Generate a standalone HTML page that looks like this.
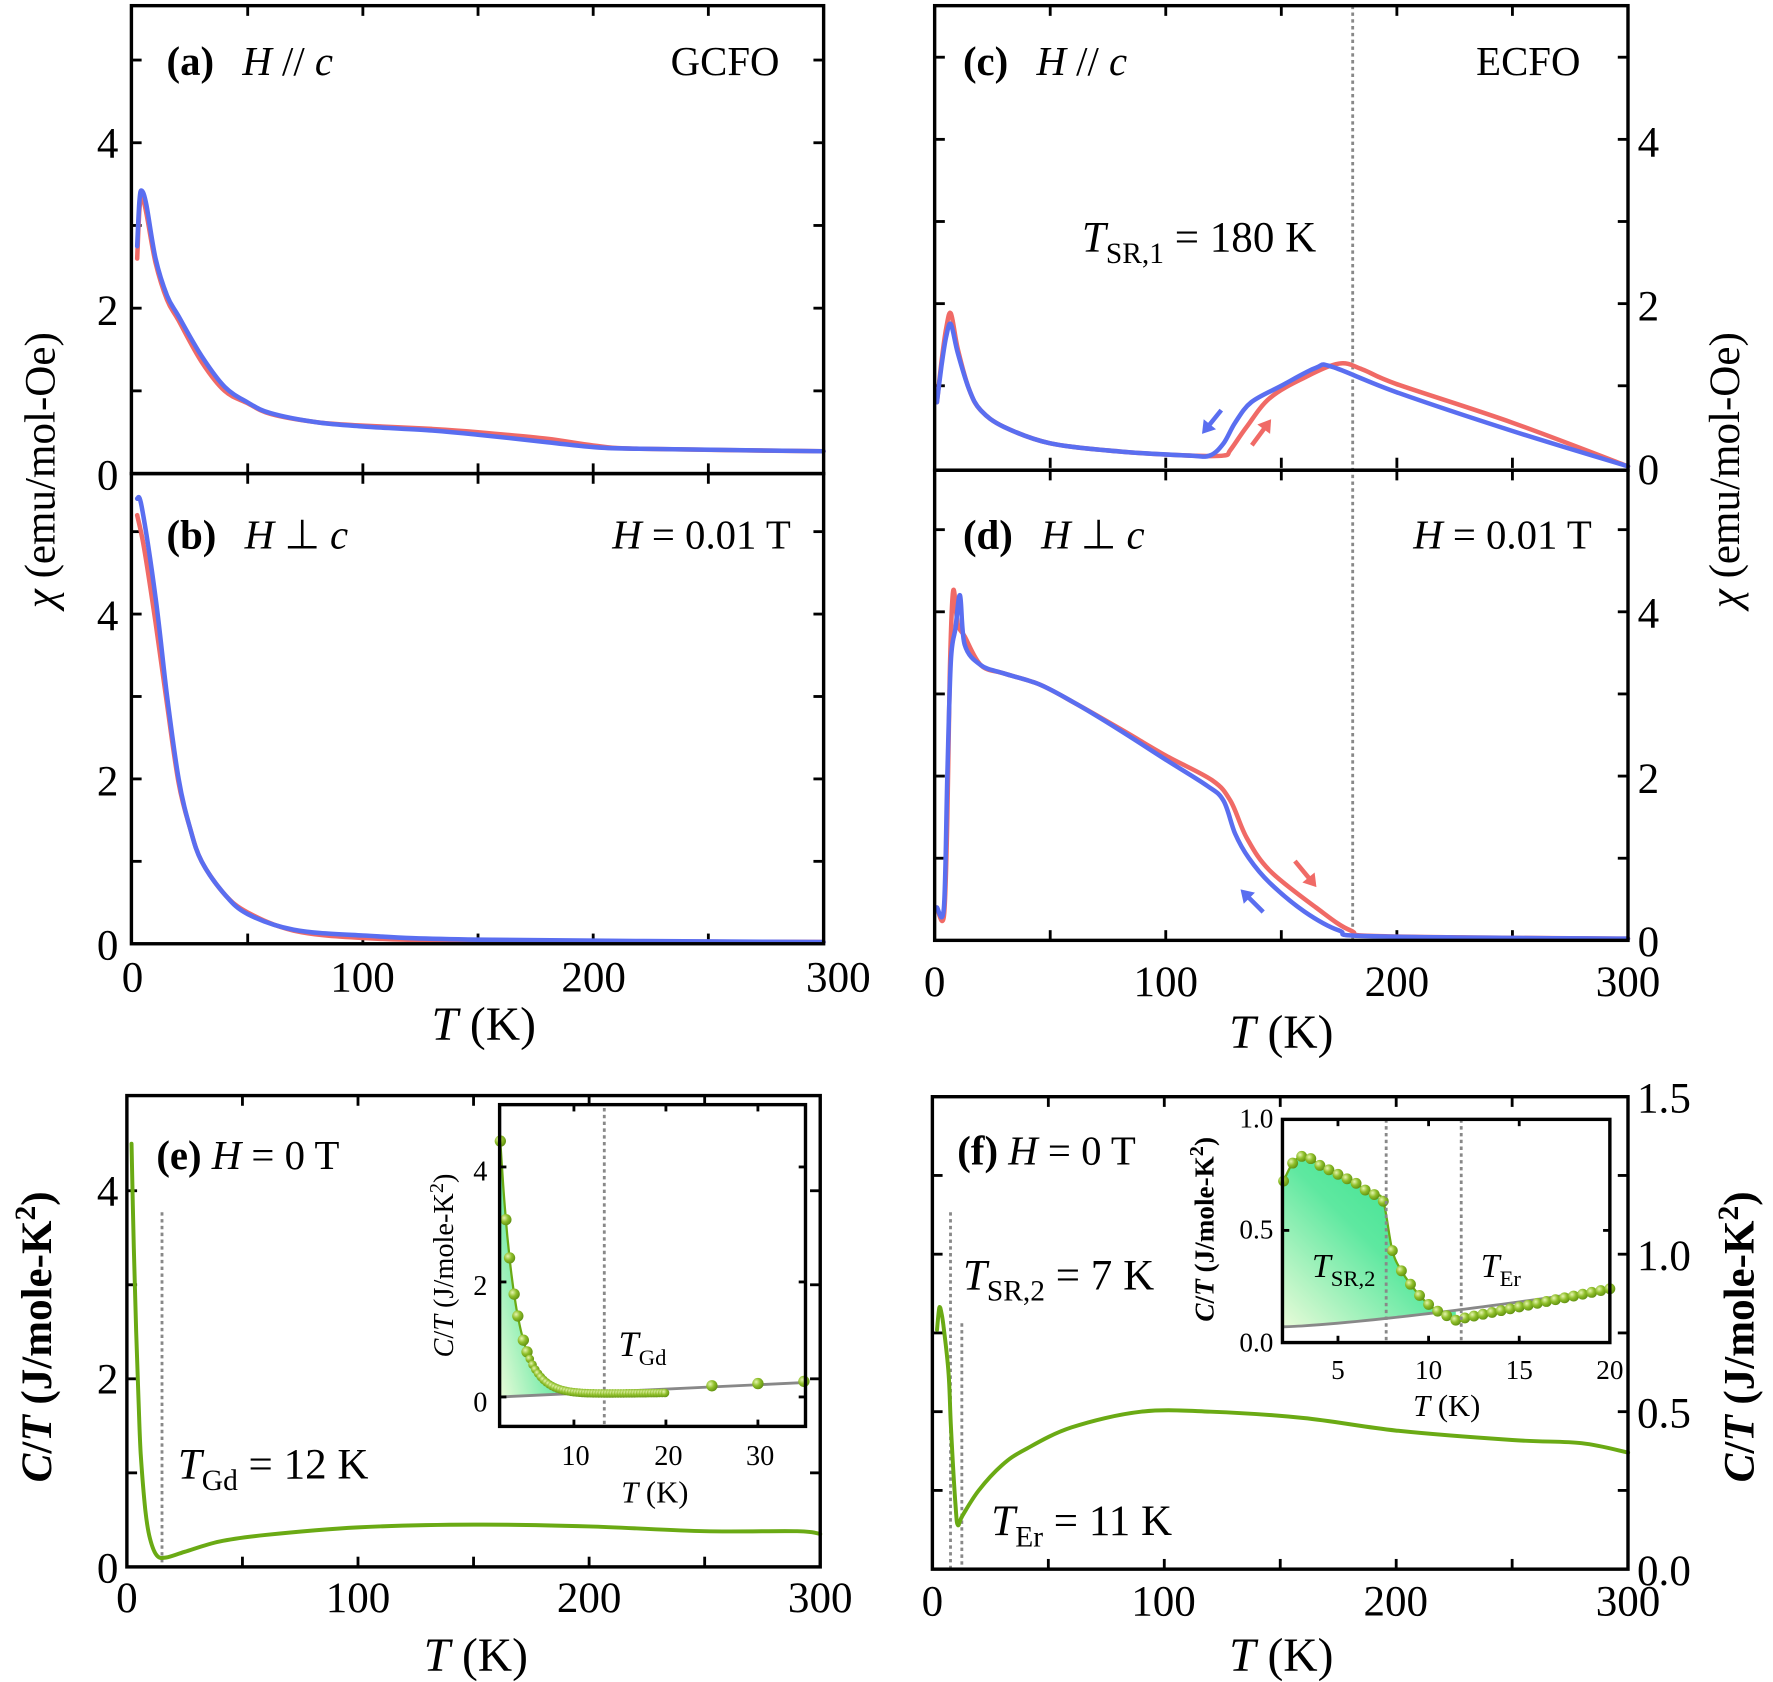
<!DOCTYPE html>
<html><head><meta charset="utf-8"><style>
html,body{margin:0;padding:0;background:#fff;}
svg{display:block}
text{font-family:"Liberation Serif",serif;fill:#000}
</style></head><body>
<svg id="s" width="1773" height="1682" viewBox="0 0 1565 1484.6" preserveAspectRatio="none" xmlns="http://www.w3.org/2000/svg">
<defs>
<linearGradient id="g1" x1="0" y1="1" x2="1" y2="0"><stop offset="0" stop-color="#e8fbd8"/><stop offset="0.5" stop-color="#5ee8a0"/><stop offset="1" stop-color="#2fe08a"/></linearGradient>
<radialGradient id="dot" cx="0.35" cy="0.35" r="0.7"><stop offset="0" stop-color="#e6f5b0"/><stop offset="0.5" stop-color="#8fbf2a"/><stop offset="1" stop-color="#5f8f10"/></radialGradient>
</defs>
<g id="root"></g>
</svg>
<script>
const NS="http://www.w3.org/2000/svg";const root=document.getElementById('root');
function el(t,a,txt){const e=document.createElementNS(NS,t);for(const k in a)e.setAttribute(k,a[k]);if(txt!==undefined)e.innerHTML=txt;root.appendChild(e);return e;}
function cr(pts){let d="M"+pts[0][0].toFixed(1)+","+pts[0][1].toFixed(1);for(let i=0;i<pts.length-1;i++){const p0=pts[Math.max(0,i-1)],p1=pts[i],p2=pts[i+1],p3=pts[Math.min(pts.length-1,i+2)];const c1=[p1[0]+(p2[0]-p0[0])/6,p1[1]+(p2[1]-p0[1])/6],c2=[p2[0]-(p3[0]-p1[0])/6,p2[1]-(p3[1]-p1[1])/6];d+="C"+c1[0].toFixed(1)+","+c1[1].toFixed(1)+" "+c2[0].toFixed(1)+","+c2[1].toFixed(1)+" "+p2[0].toFixed(1)+","+p2[1].toFixed(1);}return d;}
function curve(data,x0,sx,y0,sy,col,w){const pts=data.map(p=>[x0+sx*p[0],y0-sy*p[1]]);el('path',{d:cr(pts),fill:'none',stroke:col,'stroke-width':w,'stroke-linejoin':'round','stroke-linecap':'round'});}
function frame(x1,y1,x2,y2,w){el('rect',{x:x1,y:y1,width:x2-x1,height:y2-y1,fill:'none',stroke:'#000','stroke-width':w});}
function xticks(x0,sx,vals,yb,yt,len){vals.forEach(v=>{const x=x0+sx*v;el('line',{x1:x,x2:x,y1:yb,y2:yb-len,stroke:'#000','stroke-width':2.5});el('line',{x1:x,x2:x,y1:yt,y2:yt+len,stroke:'#000','stroke-width':2.5});});}
function yticks(y0,sy,vals,xl,xr,len){vals.forEach(v=>{const y=y0-sy*v;el('line',{x1:xl,x2:xl+len,y1:y,y2:y,stroke:'#000','stroke-width':2.5});el('line',{x1:xr,x2:xr-len,y1:y,y2:y,stroke:'#000','stroke-width':2.5});});}
function T(x,y,s,sz,anchor,extra){const a={x:x,y:y,'font-size':sz,'text-anchor':anchor||'middle'};if(extra)Object.assign(a,extra);return el('text',a,s);}
const RED='#f06a66',BLUE='#5a6ef0',GRN='#6aaa14';
const TX=[50,100,150,200,250];

// ---- (a) ----
const ax0=117,asx=2.033;
xticks(ax0,asx,TX,418,5,9);yticks(418,73,[1,2,3,4,5],116,727,9);
curve([[2,2.6],[3,3.2],[4,3.35],[6,3.15],[10,2.55],[15,2.1],[20,1.85],[30,1.35],[40,1.0],[50,0.85],[60,0.72],[80,0.62],[100,0.58],[130,0.54],[150,0.5],[180,0.42],[200,0.34],[220,0.3],[300,0.27]],ax0,asx,418,73,RED,4);
curve([[2,2.75],[3,3.3],[4,3.42],[6,3.25],[10,2.6],[15,2.15],[20,1.9],[30,1.42],[40,1.05],[50,0.86],[60,0.73],[80,0.62],[100,0.57],[130,0.52],[150,0.47],[180,0.38],[200,0.32],[220,0.3],[300,0.27]],ax0,asx,418,73,BLUE,4);
// ---- (b) ----
xticks(ax0,asx,TX,833,418,9);yticks(833,72.75,[1,2,3,4,5],116,727,9);
curve([[2,5.2],[5,4.8],[10,3.9],[15,2.9],[20,1.95],[25,1.4],[30,1.0],[40,0.6],[50,0.38],[70,0.16],[100,0.07],[150,0.04],[300,0.02]],ax0,asx,833,72.75,RED,4);
curve([[2,5.4],[4,5.3],[10,4.2],[15,3.0],[20,2.0],[25,1.4],[30,1.0],[40,0.6],[50,0.36],[70,0.17],[100,0.1],[150,0.05],[300,0.02]],ax0,asx,833,72.75,BLUE,4);
frame(116,5,727,418,3);frame(116,418,727,833,3);

// ---- (c) ----
const cx0=825,csx=2.04;
xticks(cx0,csx,TX,413,5,9);yticks(413,72.5,[1,2,3,4,5],825,1437,9);
el('line',{x1:1194,x2:1194,y1:5,y2:830,stroke:'#888','stroke-width':2.5,'stroke-dasharray':'3,3'});
curve([[1,0.8],[3,1.3],[5,1.7],[7,1.88],[10,1.45],[15,0.95],[20,0.7],[30,0.5],[50,0.3],[80,0.2],[110,0.15],[125,0.15],[128,0.22],[135,0.5],[145,0.85],[160,1.1],[175,1.27],[185,1.2],[200,1.02],[250,0.55],[300,0.02]],cx0,csx,413,72.5,RED,4);
curve([[1,0.8],[3,1.25],[5,1.6],[7,1.75],[10,1.4],[15,0.95],[20,0.7],[30,0.5],[50,0.3],[80,0.2],[110,0.15],[119,0.15],[125,0.3],[130,0.55],[137,0.8],[150,1.0],[165,1.22],[172,1.23],[200,0.92],[250,0.45],[300,0.02]],cx0,csx,413,72.5,BLUE,4);
// ---- (d) ----
xticks(cx0,csx,TX,830,415,9);yticks(830,72.5,[1,2,3,4,5],825,1437,9);
curve([[1,0.4],[4,0.3],[5.5,1.5],[6.5,3.2],[8,4.25],[10,3.85],[13,3.7],[20,3.35],[30,3.25],[45,3.12],[60,2.9],[80,2.58],[100,2.25],[120,1.95],[128,1.7],[135,1.25],[145,0.85],[165,0.4],[180,0.12],[195,0.05],[300,0.02]],cx0,csx,830,72.5,RED,4);
curve([[1,0.4],[4,0.4],[5.5,2.0],[7,3.4],[9,3.8],[11,4.2],[13,3.6],[20,3.35],[30,3.25],[45,3.12],[60,2.9],[80,2.56],[100,2.2],[118,1.88],[125,1.7],[130,1.3],[136,1.0],[145,0.7],[160,0.35],[175,0.12],[190,0.05],[300,0.02]],cx0,csx,830,72.5,BLUE,4);
frame(825,5,1437,415,3);frame(825,415,1437,830,3);

// arrows
function arrow(x1,y1,x2,y2,col){const a=Math.atan2(y2-y1,x2-x1),h=11;el('line',{x1:x1,y1:y1,x2:x2-Math.cos(a)*6,y2:y2-Math.sin(a)*6,stroke:col,'stroke-width':4});el('polygon',{points:`${x2},${y2} ${x2-h*Math.cos(a)+7*Math.sin(a)},${y2-h*Math.sin(a)-7*Math.cos(a)} ${x2-h*Math.cos(a)-7*Math.sin(a)},${y2-h*Math.sin(a)+7*Math.cos(a)}`,fill:col});}
arrow(1078,362,1061,383,BLUE);arrow(1105,393,1122,370,RED);
arrow(1143,760,1162,783,RED);arrow(1115,805,1095,785,BLUE);

// ---- (e) ----
const ex0=112,esx=2.04;
xticks(ex0,esx,TX,1383,967,9);yticks(1383,83,[1,2,3,4],112,724,9);
el('line',{x1:143,x2:143,y1:1070,y2:1383,stroke:'#888','stroke-width':2.5,'stroke-dasharray':'3,3'});
curve([[2,4.5],[3,3.4],[4,2.5],[5,1.8],[6,1.2],[8,0.6],[10,0.3],[13,0.12],[17,0.1],[25,0.16],[40,0.27],[60,0.34],[100,0.42],[150,0.45],[200,0.43],[250,0.38],[290,0.38],[300,0.35]],ex0,esx,1383,83,GRN,3.5);
frame(112,967,724,1383,3);
// inset e
const ix0=425.4,isx=8.12,iy0=1233,isy=50.75;
function fe(t){return 4.45*Math.exp(-0.615*(t-2))+0.05*(t>6?1:(t-2)/4)+(t>10?0.002*(t-10):0);}
function be(t){return (t-2)*0.25/33;}
let fp=[];for(let t=2;t<=9;t+=0.25)fp.push([ix0+isx*t,iy0-isy*fe(t)]);for(let t=9;t>=2;t-=0.5)fp.push([ix0+isx*t,iy0-isy*be(t)]);
el('polygon',{points:fp.map(p=>p.join(',')).join(' '),fill:'url(#g1)'});
el('line',{x1:ix0+isx*2,y1:iy0,x2:ix0+isx*35,y2:iy0-isy*0.25,stroke:'#888','stroke-width':2.5});
el('line',{x1:ix0+isx*13.3,x2:ix0+isx*13.3,y1:978,y2:1259,stroke:'#888','stroke-width':2.5,'stroke-dasharray':'3,3'});
let lp=[];for(let t=2;t<=20;t+=0.25)lp.push([t,fe(t)]);
curve(lp,ix0,isx,iy0,isy,GRN,2);
let dp=[2,2.6,3,3.5,3.9,4.5];for(let t=4.9;t<=20.01;t+=0.3)dp.push(t);dp.push(25,30,35);
dp.forEach(t=>{let v=t>20?0.0+(t-2)*0.25/33+0.02:fe(t);el('circle',{cx:ix0+isx*t,cy:iy0-isy*v,r:t<5||t>20?5:3.8,fill:'url(#dot)'});});
frame(441,975,711,1259,3);
xticks(ix0,isx,[10,20,30],1259,975,6);yticks(iy0,isy,[0,2,4],441,711,6);

// ---- (f) ----
const fx0=823,fsx=2.047;
xticks(fx0,fsx,TX,1385,968,9);yticks(1385,278,[0.25,0.5,0.75,1.0,1.25],823,1437,9);
el('line',{x1:839,x2:839,y1:1070,y2:1385,stroke:'#888','stroke-width':2.5,'stroke-dasharray':'3,3'});
el('line',{x1:849,x2:849,y1:1168,y2:1385,stroke:'#888','stroke-width':2.5,'stroke-dasharray':'3,3'});
curve([[2,0.76],[3,0.83],[4,0.81],[5,0.76],[7,0.62],[8,0.45],[10,0.2],[11,0.14],[13,0.17],[20,0.25],[30,0.33],[40,0.38],[60,0.45],[90,0.5],[120,0.5],[160,0.48],[200,0.44],[250,0.41],[280,0.4],[300,0.37]],fx0,fsx,1385,278,GRN,3.5);
frame(823,968,1437,1385,3);
// inset f
const jx0=1101,jsx=16,jy0=1185,jsy=198;
const fd=[[2,0.72],[2.5,0.8],[3,0.83],[3.5,0.82],[4,0.79],[4.5,0.77],[5,0.75],[5.5,0.73],[6,0.71],[6.5,0.68],[7,0.66],[7.5,0.63],[8,0.41],[8.5,0.32],[9,0.26],[9.5,0.21],[10,0.17],[10.5,0.14],[11,0.12],[11.5,0.1],[12,0.11]];
for(let t=12.5;t<=20.01;t+=0.5)fd.push([t,0.11+(t-12)*0.13/8]);
function bf(t){return 0.07+0.17*Math.pow((t-2)/18,1.3);}
let fpp=fd.filter(p=>p[0]<=11.5).map(p=>[jx0+jsx*p[0],jy0-jsy*p[1]]);for(let t=11.5;t>=2;t-=0.5)fpp.push([jx0+jsx*t,jy0-jsy*bf(t)]);
el('polygon',{points:fpp.map(p=>p.join(',')).join(' '),fill:'url(#g1)'});
let bl=[];for(let t=2;t<=20;t+=1)bl.push([t,bf(t)]);curve(bl,jx0,jsx,jy0,jsy,'#888',2.5);
curve(fd,jx0,jsx,jy0,jsy,GRN,2);
fd.forEach(p=>el('circle',{cx:jx0+jsx*p[0],cy:jy0-jsy*p[1],r:4.8,fill:'url(#dot)'}));
el('line',{x1:jx0+jsx*7.66,x2:jx0+jsx*7.66,y1:988,y2:1185,stroke:'#888','stroke-width':2.5,'stroke-dasharray':'3,3'});
el('line',{x1:jx0+jsx*11.8,x2:jx0+jsx*11.8,y1:988,y2:1185,stroke:'#888','stroke-width':2.5,'stroke-dasharray':'3,3'});
frame(1132,988,1421,1185,3);
xticks(jx0,jsx,[5,10,15],1185,988,6);yticks(jy0,jsy,[0.5],1132,1421,6);

// ---- text ----
const S=38;
T(95,139,'4',S,'middle');T(95,287,'2',S,'middle');T(95,432,'0',S,'middle');
T(95,556,'4',S,'middle');T(95,702,'2',S,'middle');T(95,847,'0',S,'middle');
[[0,117],[100,320],[200,524],[300,727]].forEach(a=>T(a[1]+(a[0]==300?13:0),875,a[0],S,'middle'));
T(427,918,'<tspan font-style="italic">T</tspan> (K)',42,'middle');
T(1455,138,'4',S,'middle');T(1455,283,'2',S,'middle');T(1455,427,'0',S,'middle');
T(1455,554,'4',S,'middle');T(1455,700,'2',S,'middle');T(1455,844,'0',S,'middle');
[[0,825],[100,1029],[200,1233],[300,1437]].forEach(a=>T(a[1],879,a[0],S,'middle'));
T(1131,925,'<tspan font-style="italic">T</tspan> (K)',42,'middle');
T(95,1064,'4',S,'middle');T(95,1230,'2',S,'middle');T(95,1397,'0',S,'middle');
[[0,112],[100,316],[200,520],[300,724]].forEach(a=>T(a[1],1423,a[0],S,'middle'));
T(420,1475,'<tspan font-style="italic">T</tspan> (K)',42,'middle');
[[1.5,968],[1.0,1107],[0.5,1246],[0.0,1385]].forEach(a=>T(1445,a[1]+14,a[0].toFixed(1),S,'start'));
[[0,823],[100,1027],[200,1232],[300,1437]].forEach(a=>T(a[1],1426,a[0],S,'middle'));
T(1131,1475,'<tspan font-style="italic">T</tspan> (K)',42,'middle');
// y axis titles
T(0,0,'<tspan font-style="italic">χ</tspan> (emu/mol-Oe)',38,'middle',{transform:'translate(48,415) rotate(-90)'});
T(0,0,'<tspan font-style="italic">χ</tspan> (emu/mol-Oe)',38,'middle',{transform:'translate(1535,415) rotate(-90)'});
T(0,0,'<tspan font-style="italic">C</tspan>/<tspan font-style="italic">T</tspan> (J/mole-K<tspan dy="-14" font-size="26">2</tspan><tspan dy="14">)</tspan>',38,'middle',{transform:'translate(45,1180) rotate(-90)','font-weight':'bold'});
T(0,0,'<tspan font-style="italic">C</tspan>/<tspan font-style="italic">T</tspan> (J/mole-K<tspan dy="-14" font-size="26">2</tspan><tspan dy="14">)</tspan>',38,'middle',{transform:'translate(1548,1180) rotate(-90)','font-weight':'bold'});
// panel labels
T(147,66,'<tspan font-weight="bold">(a)</tspan>  <tspan font-style="italic" dx="16">H</tspan> // <tspan font-style="italic">c</tspan>',36,'start');
T(688,66,'GCFO',36,'end');
T(147,484,'<tspan font-weight="bold">(b)</tspan>  <tspan font-style="italic" dx="16">H</tspan> ⊥ <tspan font-style="italic">c</tspan>',36,'start');
T(698,484,'<tspan font-style="italic">H</tspan> = 0.01 T',36,'end');
T(850,66,'<tspan font-weight="bold">(c)</tspan>  <tspan font-style="italic" dx="16">H</tspan> // <tspan font-style="italic">c</tspan>',36,'start');
T(1395,66,'ECFO',36,'end');
T(955,222,'<tspan font-style="italic">T</tspan><tspan font-size="26" dy="10">SR,1</tspan><tspan dy="-10"> = 180 K</tspan>',38,'start');
T(850,484,'<tspan font-weight="bold">(d)</tspan>  <tspan font-style="italic" dx="16">H</tspan> ⊥ <tspan font-style="italic">c</tspan>',36,'start');
T(1405,484,'<tspan font-style="italic">H</tspan> = 0.01 T',36,'end');
T(138,1032,'<tspan font-weight="bold">(e)</tspan> <tspan font-style="italic">H</tspan> = 0 T',36,'start');
T(157,1305,'<tspan font-style="italic">T</tspan><tspan font-size="26" dy="10">Gd</tspan><tspan dy="-10"> = 12 K</tspan>',38,'start');
T(845,1028,'<tspan font-weight="bold">(f)</tspan> <tspan font-style="italic">H</tspan> = 0 T',36,'start');
T(850,1138,'<tspan font-style="italic">T</tspan><tspan font-size="26" dy="10">SR,2</tspan><tspan dy="-10"> = 7 K</tspan>',38,'start');
T(875,1355,'<tspan font-style="italic">T</tspan><tspan font-size="26" dy="10">Er</tspan><tspan dy="-10"> = 11 K</tspan>',38,'start');
// inset e text
T(424,1246,'0',25,'middle');T(424,1143,'2',25,'middle');T(424,1042,'4',25,'middle');
T(508,1293,'10',25,'middle');T(590,1293,'20',25,'middle');T(671,1293,'30',25,'middle');
T(578,1326,'<tspan font-style="italic">T</tspan> (K)',27,'middle');
T(0,0,'<tspan font-style="italic">C</tspan>/<tspan font-style="italic">T</tspan> (J/mole-K<tspan dy="-9" font-size="18">2</tspan><tspan dy="9">)</tspan>',25,'middle',{transform:'translate(400,1117) rotate(-90)'});
T(546,1197,'<tspan font-style="italic">T</tspan><tspan font-size="20" dy="8">Gd</tspan>',32,'start');
// inset f text
T(1124,995,'1.0',24,'end');T(1124,1093,'0.5',24,'end');T(1124,1193,'0.0',24,'end');
T(1181,1217,'5',24,'middle');T(1261,1217,'10',24,'middle');T(1341,1217,'15',24,'middle');T(1421,1217,'20',24,'middle');
T(1277,1250,'<tspan font-style="italic">T</tspan> (K)',27,'middle');
T(0,0,'<tspan font-style="italic">C</tspan>/<tspan font-style="italic">T</tspan> (J/mole-K<tspan dy="-9" font-size="18">2</tspan><tspan dy="9">)</tspan>',24,'middle',{transform:'translate(1071,1085) rotate(-90)','font-weight':'bold'});
T(1158,1127,'<tspan font-style="italic">T</tspan><tspan font-size="20" dy="8">SR,2</tspan>',30,'start');
T(1307,1127,'<tspan font-style="italic">T</tspan><tspan font-size="20" dy="8">Er</tspan>',30,'start');
</script>
</body></html>
